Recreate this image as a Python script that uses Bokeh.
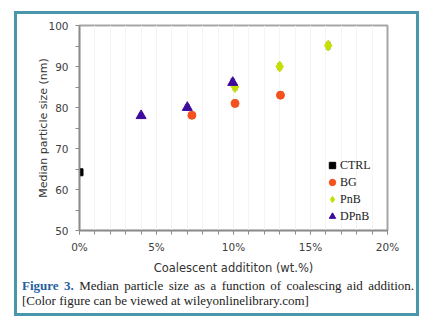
from bokeh.plotting import figure
from bokeh.layouts import column
from bokeh.models import (Range1d, FixedTicker, Whisker, ColumnDataSource, TeeHead, Div)
from bokeh.embed import file_html
from bokeh.resources import INLINE

# ---- data ----
ctrl_x = [0.0]
ctrl_y = [64.2]
ctrl_err = [0.6]
bg_x = [7.3, 10.1, 13.05]
bg_y = [78.1, 81.0, 83.0]
bg_err = [0.7, 0.8, 0.8]
pnb_x = [10.1, 13.0, 16.15]
pnb_y = [85.0, 90.0, 95.1]
pnb_err = [0.7, 0.7, 0.8]
dpnb_x = [4.0, 7.0, 9.95]
dpnb_y = [78.0, 80.0, 86.1]
dpnb_err = [0.6, 0.7, 0.8]

x_ticks = [0, 5, 10, 15, 20]
x_tick_labels = ["0%", "5%", "10%", "15%", "20%"]
y_ticks = [50, 60, 70, 80, 90, 100]

caption_label = "Figure 3."
caption_line1 = "Median particle size as a function of coalescing aid addition."
caption_line2 = "[Color figure can be viewed at wileyonlinelibrary.com]"

# ---- layout constants (page pixels) ----
EL_L, EL_T, EL_R, EL_B = 17, 14, 416, 313       # panel inside the teal outline
FRAME_L, FRAME_R, FRAME_T, FRAME_B = 79, 387, 25, 230
CAP_T = 278                                      # top of caption block
X0, X1, Y0, Y1 = 0, 20, 50, 100

p = figure(width=EL_R - EL_L, height=CAP_T - EL_T, output_backend="svg",
           toolbar_location=None,
           x_range=Range1d(X0, X1), y_range=Range1d(Y0, Y1),
           min_border_left=FRAME_L - EL_L,
           min_border_right=EL_R - FRAME_R,
           min_border_top=FRAME_T - EL_T,
           min_border_bottom=CAP_T - FRAME_B)
p.margin = 0
p.background_fill_color = "white"
p.border_fill_color = "white"
p.outline_line_color = "#a6a6a6"
p.outline_line_width = 2

# axes
for ax in (p.xaxis[0], p.yaxis[0]):
    ax.axis_line_color = "#8c8c8c"
    ax.axis_line_width = 1.5
    ax.major_tick_line_color = "#8c8c8c"
    ax.minor_tick_line_color = "#8c8c8c"
    ax.major_tick_in = 0
    ax.major_tick_out = 4
    ax.minor_tick_in = 0
    ax.minor_tick_out = 4
    ax.major_label_text_font = "DejaVu Sans"
    ax.major_label_text_font_size = "10.5px"
    ax.major_label_text_color = "#404040"
    ax.axis_label_text_font = "DejaVu Sans"
    ax.axis_label_text_font_style = "normal"
    ax.axis_label_text_color = "#333333"

p.xaxis.axis_label_text_font_size = "11.5px"
p.yaxis.axis_label_text_font_size = "11px"
p.xaxis.ticker = FixedTicker(ticks=x_ticks, minor_ticks=list(range(0, 21)))
p.xaxis.major_label_overrides = {t: l for t, l in zip(x_ticks, x_tick_labels)}
p.yaxis.ticker = FixedTicker(ticks=y_ticks, minor_ticks=[55, 65, 75, 85, 95])
p.xaxis.axis_label = "Coalescent addititon (wt.%)"
p.yaxis.axis_label = "Median particle size (nm)"
p.xaxis.major_label_standoff = 6
p.xaxis.axis_label_standoff = 5
p.yaxis.major_label_standoff = 7
p.yaxis.axis_label_standoff = -5

p.ygrid.grid_line_color = None
p.xgrid.grid_line_color = "#f2f2f2"
p.xgrid.minor_grid_line_color = "#f4f4f4"

err_color = "#8a8a8a"
series = [
    ("CTRL", ctrl_x, ctrl_y, ctrl_err, "square", "black", 7),
    ("BG", bg_x, bg_y, bg_err, "circle", "#f4511e", 8),
    ("PnB", pnb_x, pnb_y, pnb_err, "diamond", "#c4e000", 11),
    ("DPnB", dpnb_x, dpnb_y, dpnb_err, "triangle", "#3d0a9c", 10),
]
for name, xs, ys, es, marker, color, size in series:
    src = ColumnDataSource(dict(x=xs, y=ys,
                                lo=[y - e for y, e in zip(ys, es)],
                                hi=[y + e for y, e in zip(ys, es)]))
    wh = Whisker(base="x", upper="hi", lower="lo", source=src,
                 line_color=err_color, line_width=1.2, level="underlay",
                 upper_head=TeeHead(size=5, line_color=err_color, line_width=1.2),
                 lower_head=TeeHead(size=5, line_color=err_color, line_width=1.2))
    p.add_layout(wh)
    p.scatter("x", "y", source=src, marker=marker, size=size,
              fill_color=color, line_color=color, legend_label=name)

leg = p.legend[0]
leg.location = (245, 6)
leg.background_fill_alpha = 0
leg.border_line_color = None
leg.label_text_font = "Liberation Serif"
leg.label_text_font_size = "12px"
leg.label_text_color = "#222222"
leg.glyph_width = 16
leg.glyph_height = 16
leg.label_standoff = 0
leg.spacing = 1
leg.padding = 0
leg.margin = 0
leg.label_height = 16

# ---- caption block ----
LINE_L, LINE_R = 22, 414
cap_html = (
    f'<div style="display:block;width:{LINE_R - LINE_L}px;'
    f'margin:0 0 0 {LINE_L - EL_L}px;'
    'text-align:justify;text-align-last:justify;">'
    f'<span style="color:#1f5fa0;font-weight:bold;">{caption_label}</span> '
    f'{caption_line1}</div>'
    f'<div style="display:block;margin:0 0 0 {LINE_L - EL_L}px;white-space:nowrap;">'
    f'{caption_line2}</div>'
)
cap = Div(text=cap_html, width=EL_R - EL_L, height=EL_B - CAP_T, margin=0,
          styles={"font-family": "'Liberation Serif', serif", "font-size": "13px",
                  "line-height": "15px", "color": "#222222",
                  "background-color": "white"})

layout = column(p, cap, spacing=0,
                margin=(EL_T, 428 - EL_R, 331 - EL_B, EL_L),
                styles={"outline": "3px solid #4a97ab", "outline-offset": "0px",
                        "background-color": "white"})

open("out.html", "w").write(file_html(layout, INLINE))
